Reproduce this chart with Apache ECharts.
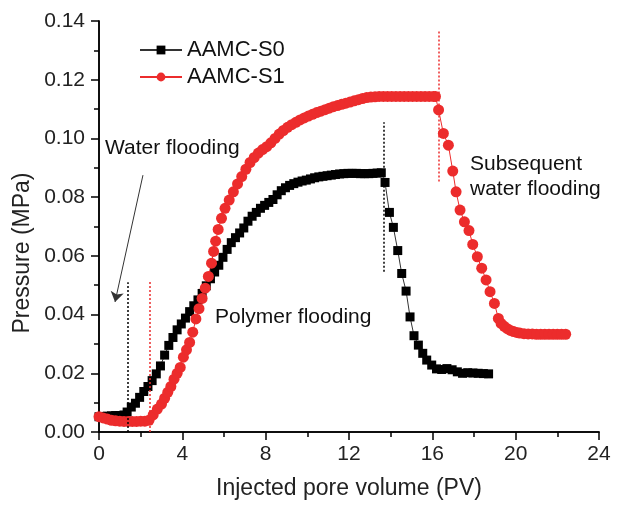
<!DOCTYPE html>
<html>
<head>
<meta charset="utf-8">
<script src="https://cdn.jsdelivr.net/npm/echarts@6/dist/echarts.min.js"></script>
<style>
  html, body { margin: 0; padding: 0; background: #fff; }
  #chart { width: 617px; height: 506px; }
</style>
</head>
<body>
<div id="chart"></div>
<script>
const FONT = '"Liberation Sans", Arial, sans-serif'
const RED = '#ec2c2c'

const seriesNames = ['AAMC-S0', 'AAMC-S1']

// [PV, MPa]
const s0Points = [
  [0.0, 0.0052], [0.2, 0.0053], [0.4, 0.0054], [0.6, 0.0055], [0.8, 0.0056], [1.0, 0.0056],
  [1.2, 0.0058], [1.35, 0.0068], [1.55, 0.0085], [1.75, 0.0098], [1.95, 0.0118], [2.15, 0.0138],
  [2.35, 0.0155], [2.55, 0.0175], [2.75, 0.0198], [2.95, 0.0225], [3.15, 0.0262], [3.35, 0.0295],
  [3.55, 0.0322], [3.75, 0.0348], [3.95, 0.0368], [4.15, 0.0388], [4.35, 0.041], [4.55, 0.043],
  [4.75, 0.045], [4.95, 0.0472], [5.15, 0.0498], [5.35, 0.0522], [5.55, 0.0545], [5.75, 0.0568],
  [5.95, 0.0595], [6.15, 0.0622], [6.35, 0.0645], [6.55, 0.0662], [6.75, 0.0678], [6.95, 0.0695],
  [7.15, 0.0718], [7.35, 0.0735], [7.55, 0.0748], [7.75, 0.0762], [7.95, 0.0772], [8.15, 0.0782],
  [8.35, 0.0792], [8.55, 0.0808], [8.75, 0.0822], [8.95, 0.0832], [9.15, 0.084], [9.35, 0.0846],
  [9.55, 0.0851], [9.75, 0.0855], [9.95, 0.0858], [10.15, 0.0862], [10.35, 0.0866], [10.55, 0.0869],
  [10.75, 0.0871], [10.95, 0.0873], [11.15, 0.0875], [11.35, 0.0877], [11.55, 0.0879], [11.75, 0.088],
  [11.95, 0.0881], [12.15, 0.0881], [12.35, 0.0881], [12.55, 0.088], [12.75, 0.088], [12.95, 0.088],
  [13.15, 0.0881], [13.35, 0.0882], [13.55, 0.0883], [13.73, 0.085], [13.94, 0.0748], [14.13, 0.0697],
  [14.34, 0.0618], [14.53, 0.054], [14.74, 0.048], [14.93, 0.0392], [15.12, 0.0328], [15.33, 0.0296],
  [15.54, 0.0268], [15.73, 0.0245], [15.97, 0.0228], [16.2, 0.0215], [16.45, 0.0213], [16.7, 0.0216],
  [16.95, 0.0212], [17.2, 0.0205], [17.45, 0.02], [17.7, 0.0202], [17.95, 0.0201], [18.2, 0.02],
  [18.45, 0.0199], [18.7, 0.0198]
]

const s1Points = [
  [0.0, 0.0052], [0.2, 0.0048], [0.4, 0.0044], [0.6, 0.004], [0.8, 0.0038], [1.0, 0.0037],
  [1.2, 0.0036], [1.4, 0.0036], [1.6, 0.0036], [1.8, 0.0036], [2.0, 0.0037], [2.2, 0.0037],
  [2.4, 0.004], [2.6, 0.0058], [2.8, 0.0078], [3.0, 0.0095], [3.15, 0.0115], [3.3, 0.0135],
  [3.45, 0.0155], [3.6, 0.018], [3.75, 0.02], [3.9, 0.022], [4.05, 0.0255], [4.2, 0.028],
  [4.35, 0.0305], [4.5, 0.034], [4.65, 0.0385], [4.8, 0.042], [4.95, 0.0455], [5.1, 0.049],
  [5.25, 0.053], [5.4, 0.0575], [5.5, 0.0615], [5.6, 0.065], [5.72, 0.069], [5.88, 0.0728],
  [6.05, 0.0762], [6.25, 0.079], [6.45, 0.0818], [6.65, 0.0845], [6.85, 0.087], [7.05, 0.0895],
  [7.25, 0.0918], [7.45, 0.0935], [7.65, 0.095], [7.85, 0.0962], [8.05, 0.0972], [8.25, 0.0985],
  [8.45, 0.1], [8.65, 0.1015], [8.85, 0.1027], [9.05, 0.1038], [9.25, 0.1047], [9.45, 0.1055],
  [9.65, 0.1063], [9.85, 0.107], [10.05, 0.1076], [10.25, 0.1082], [10.45, 0.1088], [10.65, 0.1093],
  [10.85, 0.1098], [11.05, 0.1103], [11.25, 0.1108], [11.45, 0.1112], [11.65, 0.1116], [11.85, 0.112],
  [12.05, 0.1124], [12.25, 0.1128], [12.45, 0.1132], [12.65, 0.1136], [12.85, 0.1139], [13.05, 0.1141],
  [13.25, 0.1142], [13.45, 0.1143], [13.65, 0.1143], [13.85, 0.1143], [14.05, 0.1143], [14.25, 0.1143],
  [14.45, 0.1143], [14.65, 0.1143], [14.85, 0.1143], [15.05, 0.1143], [15.25, 0.1143], [15.45, 0.1143],
  [15.65, 0.1143], [15.85, 0.1143], [16.05, 0.1143], [16.15, 0.1143], [16.3, 0.1097], [16.53, 0.1017],
  [16.77, 0.0977], [16.98, 0.0889], [17.14, 0.0818], [17.33, 0.0756], [17.54, 0.0716], [17.76, 0.0686],
  [17.94, 0.0639], [18.16, 0.0597], [18.37, 0.0558], [18.58, 0.0518], [18.77, 0.0478], [18.98, 0.0438],
  [19.17, 0.0387], [19.3, 0.037], [19.45, 0.036], [19.6, 0.0352], [19.75, 0.0346], [19.9, 0.0342],
  [20.05, 0.0339], [20.2, 0.0337], [20.4, 0.0335], [20.6, 0.0334], [20.8, 0.0334], [21.0, 0.0333],
  [21.2, 0.0333], [21.4, 0.0333], [21.6, 0.0333], [21.8, 0.0333], [22.0, 0.0333], [22.2, 0.0333],
  [22.4, 0.0333]
]

// stage boundaries: [x, yFrom, yTo]
const s0Marks = [[1.36, 0, 0.051], [13.68, 0.0546, 0.1055]]
const s1Marks = [[2.45, 0, 0.0512], [16.29, 0.0853, 0.137]]

// arrow for "Water flooding": [from, to]
const arrowCoords = [[2.11, 0.0875], [0.77, 0.0443]]

const xTicks = { min: 0, max: 24, interval: 4 }
const yTicks = { min: 0, max: 0.14, interval: 0.02 }

const chart = echarts.init(document.getElementById('chart'))

const vline = (m, color) => [
  { coord: [m[0], m[1]], lineStyle: { color, type: [2, 2], width: 1.5 } },
  { coord: [m[0], m[2]] }
]

const axisLine = { show: true, lineStyle: { color: '#000', width: 1.5 } }

chart.setOption({
  animation: false,
  textStyle: { fontFamily: FONT },
  grid: { left: 99, top: 21, right: 18, bottom: 74 },
  legend: {
    data: seriesNames,
    orient: 'vertical',
    left: 134,
    top: 34,
    itemWidth: 42,
    itemHeight: 11,
    itemGap: 5,
    textStyle: { fontSize: 22, color: '#111', fontFamily: FONT }
  },
  xAxis: [
    {
      type: 'value',
      ...xTicks,
      name: 'Injected pore volume (PV)',
      nameLocation: 'middle',
      nameGap: 45,
      nameTextStyle: { fontSize: 23, color: '#222', fontFamily: FONT },
      axisLine,
      axisTick: { show: true, inside: false, length: 8, lineStyle: { color: '#000', width: 1.5 } },
      minorTick: { show: true, splitNumber: 2, length: 5, lineStyle: { color: '#000', width: 1.5 } },
      axisLabel: { fontSize: 21, color: '#222', margin: 12, fontFamily: FONT },
      splitLine: { show: false }
    },
    {
      type: 'value',
      ...xTicks,
      position: 'top',
      axisLine,
      axisTick: { show: false },
      axisLabel: { show: false },
      splitLine: { show: false }
    }
  ],
  yAxis: [
    {
      type: 'value',
      ...yTicks,
      axisLine,
      axisTick: { show: true, inside: false, length: 8, lineStyle: { color: '#000', width: 1.5 } },
      minorTick: { show: true, splitNumber: 2, length: 5, lineStyle: { color: '#000', width: 1.5 } },
      axisLabel: { fontSize: 21, color: '#222', margin: 14, fontFamily: FONT, formatter: (v) => v.toFixed(2) },
      splitLine: { show: false }
    },
    {
      type: 'value',
      ...yTicks,
      position: 'right',
      axisLine,
      axisTick: { show: false },
      axisLabel: { show: false },
      splitLine: { show: false }
    }
  ],
  series: [
    {
      name: seriesNames[0],
      type: 'line',
      data: s0Points,
      symbol: 'rect',
      symbolSize: 9,
      itemStyle: { color: '#000' },
      lineStyle: { color: '#333', width: 1 },
      markLine: {
        silent: true,
        symbol: 'none',
        label: { show: false },
        data: s0Marks.map((m) => vline(m, '#000'))
      }
    },
    {
      name: seriesNames[1],
      type: 'line',
      data: s1Points,
      symbol: 'circle',
      symbolSize: 11,
      itemStyle: { color: RED },
      lineStyle: { color: RED, width: 1 },
      markLine: {
        silent: true,
        symbol: 'none',
        label: { show: false },
        data: s1Marks.map((m) => vline(m, RED))
      }
    },
    {
      name: 'arrow',
      type: 'line',
      data: [],
      markLine: {
        silent: true,
        symbol: ['none', 'arrow'],
        symbolSize: 10,
        label: { show: false },
        lineStyle: { color: '#333', width: 1, type: 'solid' },
        data: [[{ coord: arrowCoords[0] }, { coord: arrowCoords[1] }]]
      }
    }
  ],
  graphic: [
    {
      type: 'text',
      left: 11,
      top: 'middle',
      rotation: Math.PI / 2,
      style: { text: 'Pressure (MPa)', font: '23px ' + FONT, fill: '#222' }
    },
    { type: 'text', x: 105, y: 138, style: { text: 'Water flooding', font: '21px ' + FONT, fill: '#111' } },
    { type: 'text', x: 215, y: 307, style: { text: 'Polymer flooding', font: '21px ' + FONT, fill: '#111' } },
    { type: 'text', x: 470, y: 152, style: { text: 'Subsequent\nwater flooding', font: '21px ' + FONT, fill: '#111', lineHeight: 25 } }
  ]
})
</script>
</body>
</html>
